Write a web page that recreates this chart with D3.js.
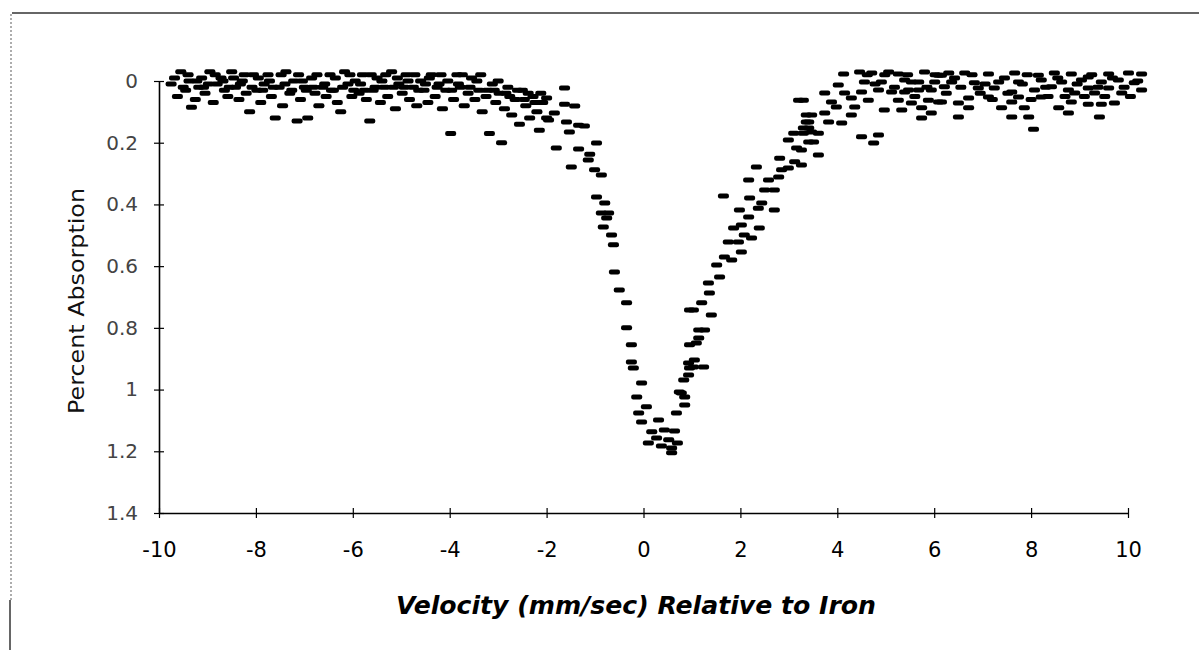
<!DOCTYPE html>
<html>
<head>
<meta charset="utf-8">
<script src="https://cdn.jsdelivr.net/npm/d3@7"></script>
<style>
  html, body { margin: 0; padding: 0; background: #fff; }
  svg { display: block; }
</style>
</head>
<body>
<svg id="chart"></svg>
<script>
// tick values
const xTicks = [-10, -8, -6, -4, -2, 0, 2, 4, 6, 8, 10]
const yTicks = [0, 0.2, 0.4, 0.6, 0.8, 1, 1.2, 1.4]

// [velocity mm/s, percent absorption]
const leftWing = [
  [-9.75, 0.01], [-9.62, 0.05], [-9.55, -0.03], [-9.45, 0.03], [-9.38, 0.0], [-9.33, 0.085],
  [-9.25, 0.06], [-9.18, 0.02], [-9.12, -0.01], [-9.05, 0.04], [-8.95, -0.03], [-8.88, 0.07],
  [-8.80, 0.01], [-8.72, -0.01], [-8.65, 0.03], [-8.58, 0.05], [-8.50, -0.03], [-8.42, 0.02],
  [-8.35, 0.06], [-8.28, 0.0], [-8.20, 0.04], [-8.13, 0.10], [-8.05, -0.02], [-7.98, 0.03],
  [-7.90, 0.07], [-7.83, 0.01], [-7.75, -0.02], [-7.68, 0.05], [-7.60, 0.12], [-7.52, 0.02],
  [-7.45, 0.08], [-7.38, -0.03], [-7.30, 0.04], [-7.22, 0.0], [-7.15, 0.13], [-7.08, 0.06],
  [-7.00, 0.02], [-6.93, 0.12], [-6.85, -0.01], [-6.78, 0.04], [-6.70, 0.08], [-6.62, 0.02],
  [-6.55, 0.05], [-6.47, -0.02], [-6.40, 0.03], [-6.32, 0.07], [-6.25, 0.10], [-6.17, -0.03],
  [-6.10, 0.01], [-6.02, 0.05], [-5.95, 0.0], [-5.87, 0.04], [-5.80, -0.02], [-5.72, 0.06],
  [-5.65, 0.13], [-5.58, 0.03], [-5.50, -0.01], [-5.43, 0.07], [-5.35, 0.02], [-5.28, 0.05],
  [-5.20, -0.03], [-5.12, 0.09], [-5.05, 0.01], [-4.98, 0.04], [-4.90, -0.02], [-4.83, 0.06],
  [-4.75, 0.02], [-4.68, 0.08], [-4.60, 0.0], [-4.53, 0.03], [-4.45, 0.07], [-4.38, -0.02],
  [-4.30, 0.05], [-4.22, 0.01], [-4.15, 0.09], [-4.08, 0.03], [-3.98, 0.17], [-3.92, 0.06],
  [-3.85, -0.02], [-3.78, 0.02], [-3.70, 0.08], [-3.62, 0.04], [-3.55, -0.01], [-3.48, 0.06],
  [-3.40, 0.03], [-3.33, 0.10], [-3.25, 0.05], [-3.18, 0.17], [-3.12, 0.01], [-3.05, 0.07],
  [-2.98, 0.04], [-2.93, 0.20], [-2.87, 0.09], [-2.80, 0.02], [-2.72, 0.11], [-2.65, 0.06],
  [-2.56, 0.14], [-2.50, 0.03], [-2.43, 0.08], [-2.35, 0.12], [-2.28, 0.05], [-2.20, 0.10],
  [-2.15, 0.16], [-2.08, 0.07], [-2.00, 0.12]
]

const leftWingTop = [
  [-9.68, -0.01], [-9.50, 0.02], [-9.40, -0.02], [-9.22, 0.0], [-9.08, 0.02], [-8.98, 0.01],
  [-8.84, -0.02], [-8.68, 0.0], [-8.55, 0.02], [-8.46, -0.01], [-8.32, 0.01], [-8.24, -0.02],
  [-8.08, 0.02], [-7.95, -0.01], [-7.86, 0.03], [-7.72, 0.0], [-7.64, 0.02], [-7.48, -0.02],
  [-7.40, 0.01], [-7.26, 0.03], [-7.12, -0.02], [-7.04, 0.0], [-6.96, 0.03], [-6.82, 0.02],
  [-6.74, -0.02], [-6.58, 0.01], [-6.44, 0.03], [-6.36, -0.01], [-6.21, 0.02], [-6.06, -0.02],
  [-5.98, 0.03], [-5.84, 0.01], [-5.76, 0.03], [-5.62, -0.02], [-5.54, 0.02], [-5.40, 0.0],
  [-5.32, -0.02], [-5.16, 0.02], [-5.08, -0.01], [-4.94, 0.02], [-4.86, 0.0], [-4.72, -0.02],
  [-4.64, 0.03], [-4.50, 0.01], [-4.42, -0.01], [-4.26, 0.02], [-4.18, -0.02], [-4.04, 0.0],
  [-3.96, 0.03], [-3.82, 0.01], [-3.74, -0.02], [-3.58, 0.02], [-3.44, 0.0], [-3.36, -0.02],
  [-3.22, 0.03], [-3.08, 0.03], [-3.00, 0.0], [-2.84, 0.04], [-2.76, 0.05], [-2.60, 0.03],
  [-2.46, 0.06], [-2.38, 0.04], [-2.24, 0.07], [-2.12, 0.04]
]

const dipLeft = [
  [-2.00, 0.055], [-1.96, 0.126], [-1.84, 0.104], [-1.80, 0.217], [-1.63, 0.023], [-1.63, 0.075],
  [-1.59, 0.133], [-1.53, 0.165], [-1.49, 0.279], [-1.42, 0.081], [-1.34, 0.143], [-1.34, 0.220],
  [-1.22, 0.146], [-1.14, 0.256], [-1.11, 0.237], [-1.01, 0.288], [-0.97, 0.201], [-0.97, 0.376],
  [-0.87, 0.305], [-0.87, 0.428], [-0.83, 0.473], [-0.80, 0.395], [-0.76, 0.444], [-0.72, 0.428],
  [-0.66, 0.499], [-0.62, 0.531], [-0.60, 0.619], [-0.50, 0.677], [-0.35, 0.719], [-0.35, 0.800],
  [-0.25, 0.855], [-0.25, 0.911], [-0.21, 0.930], [-0.04, 0.979], [-0.14, 1.024], [0.06, 1.056],
  [-0.10, 1.076], [-0.04, 1.105], [0.31, 1.099], [0.17, 1.137], [0.43, 1.131], [0.64, 1.134],
  [0.10, 1.173], [0.52, 1.163], [0.58, 1.189], [0.58, 1.205], [0.27, 1.157], [0.37, 1.183],
  [0.70, 1.173]
]

const dipRight = [
  [0.68, 1.076], [0.74, 1.008], [0.85, 1.024], [0.85, 1.050], [0.78, 1.011], [0.83, 0.969],
  [0.93, 0.953], [0.95, 0.930], [0.93, 0.914], [1.03, 0.927], [1.24, 0.927], [1.05, 0.904],
  [0.95, 0.855], [1.09, 0.849], [1.14, 0.833], [1.26, 0.807], [1.14, 0.807], [0.95, 0.742],
  [1.03, 0.742], [1.20, 0.719], [1.40, 0.758], [1.36, 0.687], [1.34, 0.655], [1.57, 0.635],
  [1.51, 0.596], [1.67, 0.570], [1.82, 0.580], [2.02, 0.554], [1.75, 0.522], [1.96, 0.522],
  [2.08, 0.499], [2.23, 0.509], [1.86, 0.476], [2.02, 0.467], [2.39, 0.476], [1.98, 0.418],
  [2.17, 0.441], [1.65, 0.373], [2.19, 0.379], [2.44, 0.395], [2.37, 0.412], [2.70, 0.418],
  [2.50, 0.353], [2.70, 0.353], [2.17, 0.321], [2.58, 0.321], [2.33, 0.279], [2.79, 0.311],
  [2.85, 0.288], [2.99, 0.282], [2.81, 0.250], [3.12, 0.262], [3.26, 0.272], [2.99, 0.191],
  [3.16, 0.217], [3.10, 0.169], [3.30, 0.169], [3.41, 0.152], [3.41, 0.198], [3.36, 0.133],
  [3.36, 0.110], [3.20, 0.062], [3.26, 0.224], [3.61, 0.240], [3.51, 0.198], [3.61, 0.169],
  [3.47, 0.165], [3.30, 0.152], [3.41, 0.133], [3.82, 0.133], [4.09, 0.136], [3.47, 0.110],
  [3.74, 0.104], [4.29, 0.110], [3.30, 0.062], [3.88, 0.068], [4.29, 0.055], [3.98, 0.084],
  [4.36, 0.084], [3.74, 0.039], [4.15, 0.039], [4.50, 0.036], [4.02, 0.013], [4.56, 0.003],
  [4.13, -0.023], [4.46, -0.029], [4.50, 0.181], [4.85, 0.175], [4.75, 0.201]
]

const rightWing = [
  [4.71, -0.026], [4.85, 0.029], [4.91, 0.003], [4.64, 0.062], [4.97, 0.094], [5.06, -0.029],
  [5.12, 0.036], [5.26, -0.023], [5.26, 0.062], [5.33, 0.094], [5.39, -0.003], [5.39, 0.036],
  [5.47, 0.029], [5.53, 0.071], [5.53, 0.003], [5.68, 0.003], [5.68, 0.029], [5.74, 0.087],
  [5.74, 0.120], [5.80, -0.029], [5.88, 0.062], [5.94, 0.029], [5.94, 0.104], [6.01, 0.003],
  [6.09, -0.019], [6.09, 0.068], [6.15, -0.019], [6.15, 0.068], [6.21, 0.019], [6.30, -0.026],
  [6.36, 0.003], [6.50, 0.071], [6.50, 0.117], [6.63, -0.026], [6.71, 0.055], [6.71, 0.087],
  [6.83, 0.006], [6.91, 0.023], [7.12, -0.023], [7.12, 0.052], [7.24, 0.023], [7.33, 0.003],
  [7.39, 0.087], [7.60, 0.036], [7.60, 0.068], [7.60, 0.117], [7.66, -0.026], [7.74, 0.003],
  [7.74, 0.052], [7.86, 0.087], [7.95, 0.117], [8.05, 0.156], [8.07, 0.029], [8.15, -0.019],
  [8.21, -0.003], [8.21, 0.052], [8.42, 0.019], [8.48, -0.026], [8.57, 0.087], [8.63, 0.003],
  [8.77, 0.029], [8.77, 0.104], [8.83, -0.023], [8.83, 0.068], [8.90, 0.039], [9.04, -0.003],
  [9.18, -0.013], [9.18, 0.023], [9.18, 0.075], [9.31, 0.039], [9.41, 0.117], [9.45, 0.003],
  [9.45, 0.075], [9.60, -0.023], [9.60, 0.023], [9.72, 0.071], [9.80, -0.003], [9.87, 0.039],
  [10.01, -0.026], [10.13, 0.006], [10.28, -0.023], [10.28, 0.029]
]

const rightWingTop = [
  [4.62, -0.02], [4.78, 0.01], [4.98, -0.02], [5.18, 0.02], [5.45, -0.02], [5.60, 0.05],
  [5.85, 0.02], [6.02, -0.02], [6.25, 0.04], [6.42, -0.01], [6.55, 0.02], [6.78, -0.02],
  [6.95, 0.04], [7.05, 0.01], [7.20, 0.06], [7.45, -0.01], [7.52, 0.04], [7.82, 0.01],
  [7.92, -0.02], [8.00, 0.06], [8.30, 0.02], [8.35, 0.05], [8.55, -0.01], [8.70, 0.05],
  [8.95, 0.01], [9.10, 0.05], [9.25, -0.02], [9.38, 0.02], [9.52, 0.05], [9.68, -0.01],
  [9.92, 0.02], [10.05, 0.05], [10.20, 0.0]
]

const points = [...leftWing, ...leftWingTop, ...dipLeft, ...dipRight, ...rightWing, ...rightWingTop]

const width = 1199
const height = 650
const fontFamily = "'DejaVu Sans', sans-serif"

const svg = d3.select("#chart")
    .attr("width", width)
    .attr("height", height)
    .attr("viewBox", [0, 0, width, height])

// scanned page frame (top rule + dotted left edge)
svg.append("path")
    .attr("d", `M12,13 H${width}`)
    .attr("stroke", "#333")
    .attr("stroke-width", 1.6)
    .attr("fill", "none")
svg.append("path")
    .attr("d", "M11,14 V600")
    .attr("stroke", "#777")
    .attr("stroke-width", 1.2)
    .attr("stroke-dasharray", "2,2")
    .attr("fill", "none")
svg.append("path")
    .attr("d", "M10,600 V650")
    .attr("stroke", "#333")
    .attr("stroke-width", 1.5)
    .attr("fill", "none")

const x = d3.scaleLinear([-10, 10], [159, 1128])
// absorption grows downward
const y = d3.scaleLinear([0, 1.4], [81, 513])

const xAxis = d3.axisBottom(x).tickValues(xTicks).tickSize(0).tickPadding(0)
    .tickFormat(d => String(d))
const yAxis = d3.axisLeft(y).tickValues(yTicks).tickSize(0).tickPadding(0)
    .tickFormat(d => d === 0 || d === 1 ? String(d) : d3.format(".1f")(d))

svg.append("g")
    .attr("transform", `translate(0,${y(1.4)})`)
    .call(xAxis)
    .call(g => g.select(".domain").attr("stroke", "#000").attr("stroke-width", 1.6))
    .call(g => g.selectAll(".tick line").attr("y1", -5).attr("y2", 5)
        .attr("stroke", "#000").attr("stroke-width", 1.2))
    .call(g => g.selectAll(".tick text")
        .attr("y", 44)
        .attr("dy", 0)
        .attr("fill", "#000")
        .attr("font-size", 21)
        .attr("font-family", fontFamily))

svg.append("g")
    .attr("transform", `translate(${x(-10)},0)`)
    .call(yAxis)
    .call(g => g.select(".domain").attr("stroke", "#000").attr("stroke-width", 1.6))
    .call(g => g.selectAll(".tick line").attr("x1", -5).attr("x2", 5)
        .attr("stroke", "#000").attr("stroke-width", 1.2))
    .call(g => g.selectAll(".tick text")
        .attr("x", -21)
        .attr("fill", "#444")
        .attr("font-size", 20)
        .attr("font-family", fontFamily))

// dash markers
svg.append("g")
    .selectAll("rect")
    .data(points)
    .join("rect")
    .attr("x", d => x(d[0]) - 5.5)
    .attr("y", d => y(d[1]) - 2.5)
    .attr("width", 11)
    .attr("height", 5)
    .attr("rx", 2)
    .attr("fill", "#000")

svg.append("text")
    .attr("transform", `translate(84,${(y(0) + y(1.4)) / 2 + 4}) rotate(-90)`)
    .attr("text-anchor", "middle")
    .attr("font-size", 22)
    .attr("textLength", 226)
    .attr("lengthAdjust", "spacingAndGlyphs")
    .attr("font-family", fontFamily)
    .attr("fill", "#111")
    .text("Percent Absorption")

svg.append("text")
    .attr("x", 636)
    .attr("y", 614)
    .attr("text-anchor", "middle")
    .attr("font-size", 24)
    .attr("textLength", 480)
    .attr("lengthAdjust", "spacingAndGlyphs")
    .attr("font-weight", "bold")
    .attr("font-style", "italic")
    .attr("font-family", fontFamily)
    .attr("fill", "#000")
    .text("Velocity (mm/sec) Relative to Iron")
</script>
</body>
</html>
